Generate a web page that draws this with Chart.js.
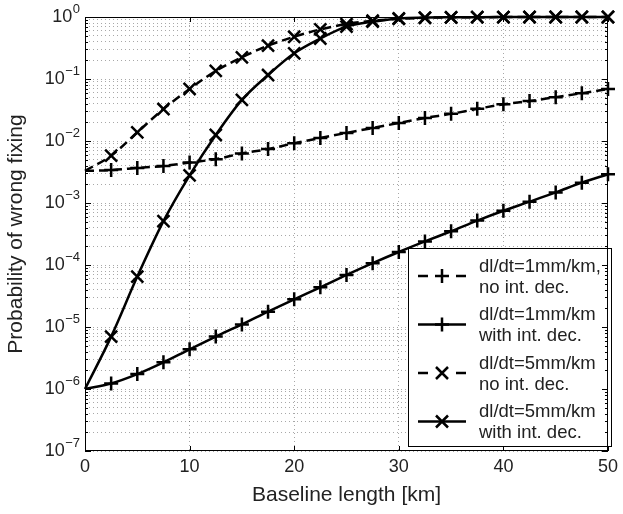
<!DOCTYPE html>
<html>
<head>
<meta charset="utf-8">
<script src="https://cdn.jsdelivr.net/npm/chart.js@4.4.1/dist/chart.umd.min.js"></script>
<style>
  html, body { margin: 0; padding: 0; background: #fff; }
  canvas { display: block; }
</style>
</head>
<body>
<canvas id="chart" width="623" height="514"></canvas>
<script>
// distances along the baseline (km)
const xValues = [0, 2.5, 5, 7.5, 10, 12.5, 15, 17.5, 20, 22.5, 25, 27.5, 30, 32.5, 35, 37.5, 40, 42.5, 45, 47.5, 50];

// probabilities
const noDec1mm = [3.3e-3, 3.4e-3, 3.67e-3, 3.96e-3, 4.5e-3, 5.1e-3, 6.3e-3, 7.4e-3, 9.2e-3, 1.12e-2, 1.35e-2, 1.62e-2, 1.95e-2, 2.35e-2, 2.74e-2, 3.3e-2, 3.9e-2, 4.4e-2, 5.1e-2, 5.9e-2, 6.9e-2];
const withDec1mm = [1e-6, 1.23e-6, 1.74e-6, 2.69e-6, 4.37e-6, 7.0e-6, 1.1e-5, 1.77e-5, 2.8e-5, 4.37e-5, 6.9e-5, 1.07e-4, 1.62e-4, 2.4e-4, 3.5e-4, 5.2e-4, 7.5e-4, 1.05e-3, 1.48e-3, 2.13e-3, 2.9e-3];
const noDec5mm = [3.3e-3, 5.8e-3, 1.38e-2, 3.28e-2, 6.9e-2, 0.135, 0.224, 0.345, 0.48, 0.63, 0.77, 0.87, 0.93, 0.97, 0.985, 0.993, 0.997, 0.999, 1, 1, 1];
const withDec5mm = [1e-6, 7e-6, 6.5e-5, 5.1e-4, 2.8e-3, 1.25e-2, 4.6e-2, 0.116, 0.26, 0.45, 0.7, 0.84, 0.95, 0.98, 0.99, 0.995, 0.998, 1, 1, 1, 1];

const seriesLabels = [
  ['dl/dt=1mm/km,', 'no int. dec.'],
  ['dl/dt=1mm/km', 'with int. dec.'],
  ['dl/dt=5mm/km', 'no int. dec.'],
  ['dl/dt=5mm/km', 'with int. dec.']
];

const xTicks = [0, 10, 20, 30, 40, 50];
const yTickExps = [-7, -6, -5, -4, -3, -2, -1, 0];

const FONT = '"Liberation Sans", Arial, Helvetica, sans-serif';
const TEXT = '#222';
const GRID = 'rgba(0,0,0,0.34)';

Chart.defaults.font.family = FONT;

function toPoints(arr) {
  return arr.map((v, i) => ({ x: xValues[i], y: v }));
}

function makeSet(label, values, dashed, marker) {
  return {
    label: label.join(' '),
    data: toPoints(values),
    borderColor: '#000',
    borderWidth: 2.5,
    borderDash: dashed ? [9, 5] : [],
    cubicInterpolationMode: 'monotone',
    pointStyle: marker,
    pointRadius: c => c.dataIndex === 0 ? 0 : (marker === 'cross' ? 7 : 8.5),
    pointBorderWidth: 2.5,
    pointBorderColor: '#000',
    pointBackgroundColor: 'transparent',
    fill: false,
    clip: false
  };
}

const datasets = [
  makeSet(seriesLabels[0], noDec1mm, true, 'cross'),
  makeSet(seriesLabels[1], withDec1mm, false, 'cross'),
  makeSet(seriesLabels[2], noDec5mm, true, 'crossRot'),
  makeSet(seriesLabels[3], withDec5mm, false, 'crossRot')
];

function drawMarker(ctx, style, cx, cy) {
  ctx.beginPath();
  if (style === 'cross') {
    ctx.moveTo(cx - 7, cy); ctx.lineTo(cx + 7, cy);
    ctx.moveTo(cx, cy - 7); ctx.lineTo(cx, cy + 7);
  } else {
    const d = 6;
    ctx.moveTo(cx - d, cy - d); ctx.lineTo(cx + d, cy + d);
    ctx.moveTo(cx - d, cy + d); ctx.lineTo(cx + d, cy - d);
  }
  ctx.stroke();
}

// MATLAB-like legend, inner ticks, frame and 10^n labels
const matlabLook = {
  id: 'matlabLook',
  afterDatasetsDraw(chart) {
    const ctx = chart.ctx;
    const box = { l: 408.5, t: 248.5, r: 611.5, b: 446.5 };
    ctx.save();
    ctx.fillStyle = '#fff';
    ctx.fillRect(box.l, box.t, box.r - box.l, box.b - box.t);
    ctx.strokeStyle = '#000';
    ctx.lineWidth = 1;
    ctx.strokeRect(box.l, box.t, box.r - box.l, box.b - box.t);

    chart.data.datasets.forEach((ds, i) => {
      const cy = 276 + i * 48.5;
      ctx.strokeStyle = '#000';
      ctx.lineWidth = 2.5;
      ctx.setLineDash(ds.borderDash.length ? [10, 28] : []);
      ctx.beginPath();
      ctx.moveTo(418, cy);
      ctx.lineTo(466, cy);
      ctx.stroke();
      ctx.setLineDash([]);
      drawMarker(ctx, ds.pointStyle, 442, cy);

      ctx.fillStyle = TEXT;
      ctx.font = '18.5px ' + FONT;
      ctx.textAlign = 'left';
      ctx.textBaseline = 'middle';
      ctx.fillText(seriesLabels[i][0], 479, cy - 9.5);
      ctx.fillText(seriesLabels[i][1], 479, cy + 11.5);
    });
    ctx.restore();
  },
  afterDraw(chart) {
    const { ctx, chartArea: a, scales: { x, y } } = chart;
    ctx.save();
    ctx.strokeStyle = '#000';
    ctx.lineWidth = 1;
    ctx.beginPath();
    xTicks.forEach(v => {
      const px = Math.round(x.getPixelForValue(v)) + 0.5;
      ctx.moveTo(px, a.bottom); ctx.lineTo(px, a.bottom - 5);
      ctx.moveTo(px, a.top); ctx.lineTo(px, a.top + 5);
    });
    yTickExps.forEach(e => {
      for (let m = 1; m <= 9; m++) {
        const v = m * Math.pow(10, e);
        if (v > y.max * 1.0001) break;
        const py = Math.round(y.getPixelForValue(v)) + 0.5;
        const len = m === 1 ? 6 : 3;
        ctx.moveTo(a.left, py); ctx.lineTo(a.left + len, py);
        ctx.moveTo(a.right, py); ctx.lineTo(a.right - len, py);
      }
    });
    ctx.stroke();
    ctx.strokeRect(a.left + 0.5, a.top + 0.5, a.right - a.left - 1, a.bottom - a.top - 1);

    ctx.fillStyle = TEXT;
    ctx.textBaseline = 'middle';
    ctx.textAlign = 'right';
    yTickExps.forEach(e => {
      const py = y.getPixelForValue(Math.pow(10, e));
      const expText = e < 0 ? '\u2212' + Math.abs(e) : String(e);
      ctx.font = '13px ' + FONT;
      const ew = ctx.measureText(expText).width;
      ctx.fillText(expText, 80, py - 8);
      ctx.font = '18px ' + FONT;
      ctx.fillText('10', 80 - ew - 0.5, py);
    });
    ctx.restore();
  }
};

new Chart(document.getElementById('chart'), {
  type: 'line',
  data: { datasets: datasets },
  options: {
    responsive: false,
    animation: false,
    events: [],
    layout: { padding: { top: 17, right: 10, left: 0, bottom: 0 } },
    plugins: {
      legend: { display: false },
      tooltip: { enabled: false }
    },
    scales: {
      x: {
        type: 'linear',
        min: 0,
        max: 50,
        afterBuildTicks: s => { s.ticks = xTicks.map(v => ({ value: v })); },
        afterFit: s => { s.height = 63; },
        grid: { color: GRID, lineWidth: 1, drawTicks: false },
        border: { display: false, dash: [1, 3] },
        ticks: { font: { size: 18 }, color: TEXT, padding: 5, maxRotation: 0 },
        title: {
          display: true,
          text: 'Baseline length [km]',
          font: { size: 21 },
          color: TEXT,
          padding: { top: 0, bottom: 6 }
        }
      },
      y: {
        type: 'logarithmic',
        min: 1e-7,
        max: 1,
        afterBuildTicks: s => {
          const t = [];
          yTickExps.forEach(e => {
            for (let m = 1; m <= 9; m++) {
              const v = m * Math.pow(10, e);
              if (v <= 1.0001) t.push({ value: v, major: m === 1 });
            }
          });
          s.ticks = t;
        },
        afterFit: s => { s.width = 85; },
        grid: { color: GRID, lineWidth: 1, drawTicks: false },
        border: { display: false, dash: [1, 3] },
        ticks: { display: false },
        title: {
          display: true,
          text: 'Probability of wrong fixing',
          font: { size: 21 },
          color: TEXT,
          padding: { top: 4, bottom: 0 }
        }
      }
    }
  },
  plugins: [matlabLook]
});
</script>
</body>
</html>
